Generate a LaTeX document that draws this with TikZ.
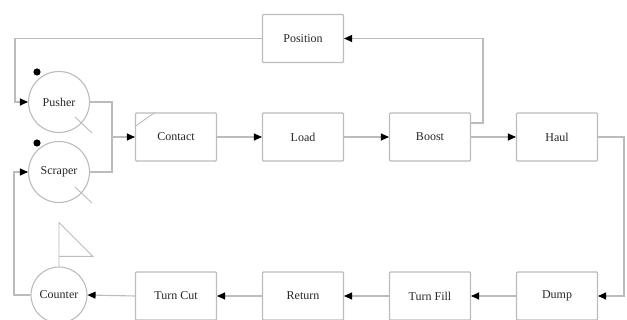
\documentclass[tikz,border=0pt]{standalone}
\usepackage{fontspec}
\setmainfont{Liberation Serif}
\usetikzlibrary{arrows.meta,calc}
\definecolor{lin}{RGB}{188,188,188}
\definecolor{txt}{RGB}{40,40,40}
\tikzset{
  stepbox/.style={draw=lin, line width=1.1pt, rounded corners=1pt, fill=white,
    minimum width=81pt, minimum height=48pt, inner sep=0pt,
    font=\fontsize{12}{14}\selectfont, text=txt},
  agent/.style={draw=lin, line width=1.1pt, circle, fill=white,
    minimum size=61pt, inner sep=0pt,
    font=\fontsize{12}{14}\selectfont, text=txt},
  wire/.style={draw=lin, line width=1.1pt},
  arr/.style={wire, -{Triangle[length=8pt,width=7pt,fill=black,color=black]}},
  mark dot/.style={fill=black, draw=none}
}
\begin{document}
\begin{tikzpicture}[x=1pt, y=-1pt]
\useasboundingbox (0,0) rectangle (627,320);

% upper row
\node[stepbox] (Contact)  at (176,137) {Contact};
\node[stepbox] (Load)     at (303,137) {Load};
\node[stepbox] (Boost)    at (430,137) {Boost};
\node[stepbox] (Haul)     at (557,137) {Haul};
\node[stepbox] (Position) at (303,38.5) {Position};

% lower row
\node[stepbox] (Dump)     at (557,296) {Dump};
\node[stepbox] (TurnFill) at (430,296) {Turn Fill};
\node[stepbox] (Return)   at (303,296) {Return};
\node[stepbox] (TurnCut)  at (176,296) {Turn Cut};

% resources
\node[agent] (Pusher)  at (59,102) {Pusher};
\node[agent] (Scraper) at (59,172) {Scraper};
\node[agent, minimum size=56pt] (Counter) at (59,295) {Counter};

% resource markers
\fill[mark dot] ($(Pusher.center)+(-22,-30)$) circle (3.6pt);
\fill[mark dot] ($(Scraper.center)+(-22,-29)$) circle (3.6pt);
\draw[wire, line width=0.9pt] ($(Pusher.center)+(16,15)$) -- ++(17,16);
\draw[wire, line width=0.9pt] ($(Scraper.center)+(16,15)$) -- ++(17,16);
\draw[wire, line width=0.9pt] (Contact.north west) ++(0,14) -- ++(20,-14);
\draw[wire, line width=0.9pt] (Counter.north) -- ++(0,-44) -- ++(34,34) -- ++(-34,0);

% bend points
\coordinate (mj) at (112,137);
\coordinate (tl) at (15,38.5);
\coordinate (bx) at (483,123);
\coordinate (hx) at (624,137);
\coordinate (cx) at (14,295);

% connectors
\draw[wire] (Pusher.east) -| (mj);
\draw[wire] (Scraper.east) -| (mj);
\draw[arr] (mj) -- (Contact.west);
\draw[arr] (Contact.east) -- (Load.west);
\draw[arr] (Load.east) -- (Boost.west);
\draw[arr] (Boost.east) -- (Haul.west);
\draw[arr] (Boost.east |- bx) -- (bx) |- (Position.east);
\draw[arr] (Position.west) -- (tl) |- (Pusher.west);
\draw[arr] (Haul.east) -- (hx) |- (Dump.east);
\draw[arr] (Dump.west) -- (TurnFill.east);
\draw[arr] (TurnFill.west) -- (Return.east);
\draw[arr] (Return.west) -- (TurnCut.east);
\draw[arr] (TurnCut.west) -- (Counter.east);
\draw[arr] (Counter.west) -- (cx) |- (Scraper.west);
\end{tikzpicture}
\end{document}
